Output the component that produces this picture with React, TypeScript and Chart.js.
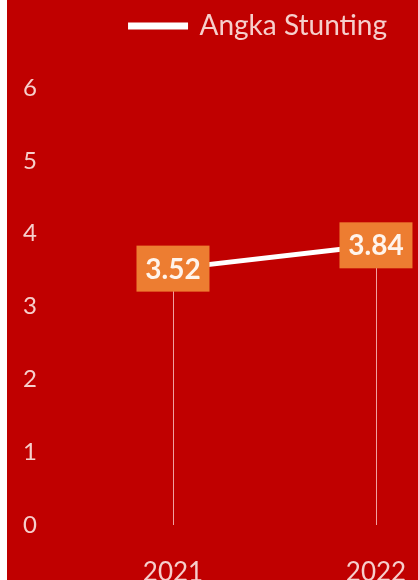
import React, { useEffect, useRef } from "react";
import { Chart, registerables } from "chart.js";

Chart.register(...registerables);

const years = [2021, 2022];
const stunting = [3.52, 3.84];
const seriesLabel = "Angka Stunting";
const yMin = 0;
const yMax = 6;
const yStep = 1;

const BG = "#C00000";
const TEXT = "#F6CFCC";
const FONT = "Lato, 'Open Sans', sans-serif";

const legendGap = {
  id: "legendGap",
  beforeInit(chart: any) {
    const legend = chart.legend;
    if (!legend) return;
    const origFit = legend.fit;
    legend.fit = function () {
      origFit.call(this);
      this.height += 38;
      if (this.lineWidths && this.lineWidths.length) this.lineWidths[0] += 21;
    };
  },
};

const dropLines = {
  id: "dropLines",
  beforeDatasetsDraw(chart: any) {
    const meta = chart.getDatasetMeta(0);
    const yScale = chart.scales.y;
    const ctx = chart.ctx;
    ctx.save();
    ctx.strokeStyle = "rgba(255,215,215,0.75)";
    ctx.lineWidth = 1;
    meta.data.forEach((pt: any) => {
      ctx.beginPath();
      ctx.moveTo(Math.round(pt.x) + 0.5, pt.y);
      ctx.lineTo(Math.round(pt.x) + 0.5, yScale.getPixelForValue(0));
      ctx.stroke();
    });
    ctx.restore();
  },
};

const boxLabels = {
  id: "boxLabels",
  afterDatasetsDraw(chart: any) {
    const meta = chart.getDatasetMeta(0);
    const ds = chart.data.datasets[0];
    const ctx = chart.ctx;
    ctx.save();
    ctx.font = `bold 28px ${FONT}`;
    ctx.textAlign = "center";
    ctx.textBaseline = "middle";
    meta.data.forEach((pt: any, i: number) => {
      const v = ds.data[i].y;
      const txt = v.toFixed(2);
      const w = 73;
      const h = 46;
      ctx.fillStyle = "#ED7D31";
      ctx.fillRect(pt.x - w / 2, pt.y - h / 2, w, h);
      ctx.fillStyle = "#FFF4EC";
      ctx.fillText(txt, pt.x, pt.y + 1);
    });
    ctx.restore();
  },
};

export default function App() {
  const ref = useRef<HTMLCanvasElement>(null);
  useEffect(() => {
    if (!ref.current) return;
    const chart = new Chart(ref.current, {
      type: "line",
      data: {
        datasets: [
          {
            label: seriesLabel,
            data: years.map((yr, i) => ({ x: yr, y: stunting[i] })),
            borderColor: "#FFFFFF",
            backgroundColor: "#FFFFFF",
            borderWidth: 5,
            pointRadius: 0,
            tension: 0,
            clip: false,
          },
        ],
      },
      options: {
        responsive: false,
        animation: false,
        layout: { padding: { top: 2, right: 0, left: 0, bottom: 0 } },
        plugins: {
          legend: {
            position: "top",
            align: "end",
            labels: {
              color: TEXT,
              font: { family: FONT, size: 28 },
              boxWidth: 55,
              boxHeight: 2,
              padding: 10,
            },
          },
          tooltip: { enabled: false },
        },
        scales: {
          x: {
            type: "linear",
            min: 2020.468,
            max: 2022.207,
            grid: { display: false, drawTicks: false },
            border: { display: false },
            afterBuildTicks: (scale: any) => {
              scale.ticks = years.map((v) => ({ value: v }));
            },
            afterFit: (scale: any) => {
              scale.height = 55;
              scale.paddingLeft = 0;
              scale.paddingRight = 0;
            },
            ticks: {
              color: TEXT,
              font: { family: FONT, size: 26 },
              padding: 32,
              maxRotation: 0,
              callback: (v: any) => String(v),
            },
          },
          y: {
            min: yMin,
            max: yMax,
            grid: { display: false, drawTicks: false },
            border: { display: false },
            afterFit: (scale: any) => {
              scale.width = 58;
              scale.paddingTop = 0;
              scale.paddingBottom = 0;
            },
            ticks: {
              stepSize: yStep,
              color: TEXT,
              font: { family: FONT, size: 24 },
              padding: 28,
            },
          },
        },
      },
      plugins: [legendGap, dropLines, boxLabels],
    });
    return () => chart.destroy();
  }, []);

  return (
    <div
      style={{
        position: "absolute",
        left: 7,
        top: 0,
        width: 411,
        height: 580,
        background: BG,
      }}
    >
      <canvas ref={ref} width={411} height={580} style={{ display: "block" }} />
    </div>
  );
}
